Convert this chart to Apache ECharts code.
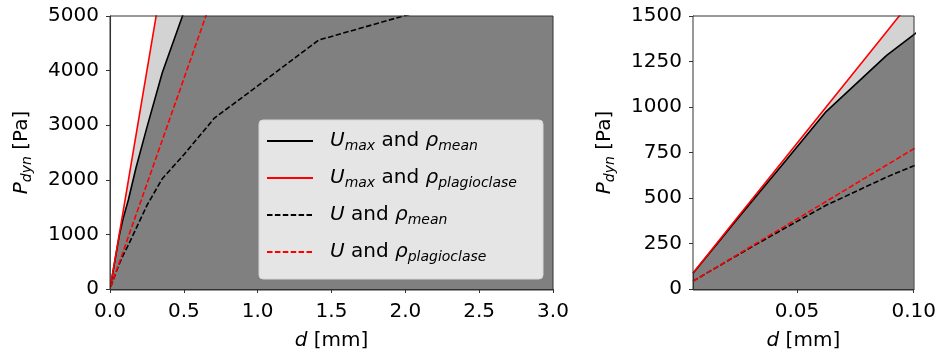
<!DOCTYPE html>
<html>
<head>
<meta charset="utf-8">
<script src="https://cdn.jsdelivr.net/npm/echarts@6/dist/echarts.min.js"></script>
<style>
  html, body { margin: 0; padding: 0; background: #fff; }
  #chart { width: 939px; height: 356px; }
</style>
</head>
<body>
<div id="chart"></div>
<script>
// Grain diameter d [mm] (half-phi steps) and dynamic pressure P_dyn [Pa]
const d = [0.0055, 0.0078, 0.011, 0.0156, 0.0221, 0.0313, 0.0442, 0.0625, 0.0884, 0.125,
           0.177, 0.25, 0.354, 0.5, 0.707, 1.0, 1.414, 2.0, 2.83];
const pUmaxMean = [86, 122, 173, 245, 347, 491, 690, 975, 1284, 1640, 2230, 2960, 3960, 5070];
const pUmaxPlag = [88, 125, 176, 250, 354, 501, 707, 1000, 1414, 2000, 2832, 4000, 5664];
const pUMean    = [43, 60, 85, 119, 168, 236, 330, 460, 615, 810, 1110, 1530, 2020, 2460,
                   3130, 3720, 4560, 5010, 5600];
const pUPlag    = [42, 60, 85, 120, 170, 241, 340, 481, 681, 963, 1363, 1925, 2726, 3850, 5444];

// Axis ranges and tick labels
const leftX = { min: 0, max: 3.0, interval: 0.5 };
const leftY = { min: 0, max: 5000, interval: 1000 };
const rightX = { min: 0.0055, max: 0.10, ticks: [0.05, 0.10] };
const rightY = { min: 0, max: 1500, interval: 250 };

const seriesNames = ['umaxMean', 'umaxPlag', 'uMean', 'uPlag'];
const legendLabels = {
  umaxMean: '{gap|}{it|U}{sub|max}{n| and }{it|ρ}{sub|mean}',
  umaxPlag: '{gap|}{it|U}{sub|max}{n| and }{it|ρ}{sub|plagioclase}',
  uMean:    '{gap|}{it|U}{n| and }{it|ρ}{sub|mean}',
  uPlag:    '{gap|}{it|U}{n| and }{it|ρ}{sub|plagioclase}'
};

const FONT = 'DejaVu Sans';
const RED = '#ff0000', BLACK = '#000000';
const LIGHT = '#d3d3d3', DARK = '#808080';
const DASH = [5.5, 2.4];

const pairs = vals => vals.map((v, i) => [d[i], v]);

const richText = {
  gap: { width: 12 },
  it: { fontFamily: FONT, fontStyle: 'italic', fontSize: 20, color: '#000' },
  n: { fontFamily: FONT, fontSize: 20, color: '#000' },
  sub: { fontFamily: FONT, fontStyle: 'italic', fontSize: 14, color: '#000', padding: [10, 0, 0, 0] }
};

const grids = [
  { left: 110, top: 16, width: 443, height: 274, backgroundColor: DARK, show: true, borderWidth: 0 },
  { left: 693, top: 16, width: 221, height: 274, backgroundColor: DARK, show: true, borderWidth: 0 }
];

const yTickLabel = { fontFamily: FONT, fontSize: 20, color: '#000', margin: 11, formatter: v => String(v) };
const tickStyle = { show: true, inside: false, length: 4, lineStyle: { color: '#333', width: 1 } };
const axisLine = { show: true, onZero: false, lineStyle: { color: '#333', width: 1 } };

const xAxes = [
  {
    type: 'value', gridIndex: 0, min: leftX.min, max: leftX.max, interval: leftX.interval,
    splitLine: { show: false }, axisLine, axisTick: tickStyle,
    axisLabel: { fontFamily: FONT, fontSize: 20, color: '#000', margin: 13, formatter: v => v.toFixed(1) },
    name: '{it|d}{n| [mm]}', nameLocation: 'middle', nameGap: 42,
    nameTextStyle: { rich: richText }
  },
  {
    type: 'value', gridIndex: 1, min: rightX.min, max: rightX.max,
    splitLine: { show: false }, axisLine,
    axisTick: Object.assign({}, tickStyle, { customValues: rightX.ticks }),
    axisLabel: { fontFamily: FONT, fontSize: 20, color: '#000', margin: 13,
                 customValues: rightX.ticks, formatter: v => v.toFixed(2) },
    name: '{it|d}{n| [mm]}', nameLocation: 'middle', nameGap: 42,
    nameTextStyle: { rich: richText }
  }
];

const yAxes = [
  {
    type: 'value', gridIndex: 0, min: leftY.min, max: leftY.max, interval: leftY.interval,
    splitLine: { show: false }, axisLine, axisTick: tickStyle, axisLabel: yTickLabel,
    name: '{it|P}{sub|dyn}{n| [Pa]}', nameLocation: 'middle', nameGap: 76, nameRotate: 90,
    nameTextStyle: { rich: richText }
  },
  {
    type: 'value', gridIndex: 1, min: rightY.min, max: rightY.max, interval: rightY.interval,
    splitLine: { show: false }, axisLine, axisTick: tickStyle, axisLabel: yTickLabel,
    name: '{it|P}{sub|dyn}{n| [Pa]}', nameLocation: 'middle', nameGap: 76, nameRotate: 90,
    nameTextStyle: { rich: richText }
  }
];

function panelSeries(gi) {
  const base = { type: 'line', xAxisIndex: gi, yAxisIndex: gi, symbol: 'none', showSymbol: false,
                 clip: true, animation: false };
  return [
    // light band between the two U_max curves, white above the plagioclase curve
    Object.assign({}, base, { name: 'bandUpper', data: pairs(pUmaxMean), silent: true, z: 1,
      lineStyle: { width: 0 }, areaStyle: { color: LIGHT, opacity: 1, origin: 'end' } }),
    Object.assign({}, base, { name: 'bandTop', data: pairs(pUmaxPlag), silent: true, z: 1,
      lineStyle: { width: 0 }, areaStyle: { color: '#ffffff', opacity: 1, origin: 'end' } }),
    Object.assign({}, base, { name: 'umaxMean', data: pairs(pUmaxMean), z: 3,
      itemStyle: { color: BLACK }, lineStyle: { color: BLACK, width: 1.6 } }),
    Object.assign({}, base, { name: 'umaxPlag', data: pairs(pUmaxPlag), z: 3,
      itemStyle: { color: RED }, lineStyle: { color: RED, width: 1.6 } }),
    Object.assign({}, base, { name: 'uMean', data: pairs(pUMean), z: 3,
      itemStyle: { color: BLACK }, lineStyle: { color: BLACK, width: 1.6, type: DASH } }),
    Object.assign({}, base, { name: 'uPlag', data: pairs(pUPlag), z: 3,
      itemStyle: { color: RED }, lineStyle: { color: RED, width: 1.6, type: DASH } })
  ];
}

const chart = echarts.init(document.getElementById('chart'), null, { renderer: 'canvas' });
chart.setOption({
  animation: false,
  backgroundColor: '#ffffff',
  grid: grids,
  xAxis: xAxes,
  yAxis: yAxes,
  series: panelSeries(0).concat(panelSeries(1)),
  legend: {
    data: seriesNames,
    orient: 'vertical',
    left: 259, top: 129,
    padding: [0, 0, 0, 7],
    itemWidth: 46, itemHeight: 14, itemGap: 13,
    selectedMode: false,
    z: 20,
    itemStyle: { opacity: 0, borderWidth: 0 },
    formatter: name => legendLabels[name],
    textStyle: { rich: richText, lineHeight: 24, height: 24 }
  },
  graphic: [
    { type: 'rect', z: 15, silent: true,
      shape: { x: 259, y: 120, width: 284, height: 159, r: 4 },
      style: { fill: 'rgba(229,229,229,1)', stroke: '#d6d6d6', lineWidth: 1 } },
    { type: 'rect', z: 16, silent: true,
      shape: { x: grids[0].left, y: grids[0].top, width: grids[0].width, height: grids[0].height },
      style: { fill: 'none', stroke: '#333', lineWidth: 1 } },
    { type: 'rect', z: 16, silent: true,
      shape: { x: grids[1].left, y: grids[1].top, width: grids[1].width, height: grids[1].height },
      style: { fill: 'none', stroke: '#333', lineWidth: 1 } }
  ]
});
</script>
</body>
</html>
